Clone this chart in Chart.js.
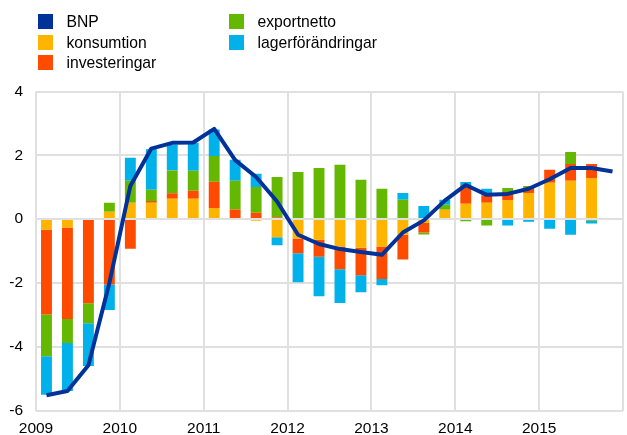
<!DOCTYPE html>
<html>
<head>
<meta charset="utf-8">
<script src="https://cdn.jsdelivr.net/npm/chart.js@4/dist/chart.umd.min.js"></script>
<style>
  html, body { margin: 0; padding: 0; background: #fff; overflow: hidden; }
  #wrap { position: absolute; left: 0; top: 0; width: 632px; height: 435px; }
  #legend { position: absolute; left: 0; top: 0; width: 627px; height: 80px; font-family: "Liberation Sans", Arial, sans-serif; font-size: 15.7px; color: #000; }
  .sw { position: absolute; width: 15px; height: 15px; }
  .lt { position: absolute; line-height: 15px; white-space: nowrap; }
</style>
</head>
<body>
<div id="wrap"><canvas id="c"></canvas></div>
<div id="legend"></div>
<script>
// Quarters 2009Q1 .. 2015Q4
const quarters = ["2009Q1","2009Q2","2009Q3","2009Q4","2010Q1","2010Q2","2010Q3","2010Q4",
  "2011Q1","2011Q2","2011Q3","2011Q4","2012Q1","2012Q2","2012Q3","2012Q4",
  "2013Q1","2013Q2","2013Q3","2013Q4","2014Q1","2014Q2","2014Q3","2014Q4",
  "2015Q1","2015Q2","2015Q3","2015Q4"];
const yearLabels = ["2009","2010","2011","2012","2013","2014","2015"];

const bnp = [-5.52, -5.39, -4.58, -2.0, 1.04, 2.21, 2.39, 2.40, 2.83, 1.85, 1.32, 0.55,
  -0.49, -0.78, -0.94, -1.03, -1.12, -0.42, -0.04, 0.58, 1.07, 0.76, 0.79, 0.95,
  1.25, 1.60, 1.60, 1.49];
const konsumtion = [-0.33, -0.26, 0, 0.23, 0.51, 0.51, 0.64, 0.64, 0.35, 0, -0.05, -0.57,
  -0.61, -0.65, -0.86, -0.90, -0.86, -0.49, -0.12, 0.29, 0.48, 0.51, 0.60, 0.82,
  1.14, 1.20, 1.29, null];
const investeringar = [-2.66, -2.875, -2.64, -2.05, -0.93, 0.06, 0.17, 0.25, 0.82, 0.30, 0.20, 0.06,
  -0.46, -0.53, -0.71, -0.86, -1.02, -0.78, -0.30, 0, 0.58, 0.23, 0.25, 0.16,
  0.41, 0.53, 0.44, null];
const exportnetto = [-1.31, -0.75, -0.625, 0.28, 0.69, 0.35, 0.71, 0.625, 0.81, 0.90, 0.81, 1.26,
  1.48, 1.60, 1.70, 1.23, 0.95, 0.61, -0.06, 0.16, -0.07, -0.20, 0.125, 0.06,
  0, 0.375, -0.05, null];
const lager = [-1.21, -1.5, -1.34, -0.8, 0.72, 1.27, 0.81, 0.875, 0.83, 0.66, 0.41, -0.25,
  -0.91, -1.24, -1.06, -0.53, -0.19, 0.21, 0.41, 0.16, 0.10, 0.21, -0.20, -0.08,
  -0.30, -0.49, -0.09, null];
const yTicks = [-6, -4, -2, 0, 2, 4];

const colors = {
  bnp: "#003299",
  konsumtion: "#FFB400",
  investeringar: "#FF4B00",
  exportnetto: "#65B800",
  lager: "#00B1EA"
};

const toXY = arr => arr.map((v, i) => ({ x: i + 0.5, y: v }));

const series = [
  { label: "BNP", color: colors.bnp },
  { label: "konsumtion", color: colors.konsumtion },
  { label: "investeringar", color: colors.investeringar },
  { label: "exportnetto", color: colors.exportnetto },
  { label: "lagerförändringar", color: colors.lager }
];

// HTML legend (two columns, column-major)
const legendPos = [
  { sx: 38, tx: 66.5, y: 14 },
  { sx: 38, tx: 66.5, y: 35 },
  { sx: 38, tx: 66.5, y: 55 },
  { sx: 229, tx: 257.5, y: 14 },
  { sx: 229, tx: 257.5, y: 35 }
];
const leg = document.getElementById("legend");
series.forEach((s, i) => {
  const p = legendPos[i];
  const sw = document.createElement("div");
  sw.className = "sw";
  sw.style.left = p.sx + "px"; sw.style.top = p.y + "px"; sw.style.background = s.color;
  const t = document.createElement("div");
  t.className = "lt";
  t.style.left = p.tx + "px"; t.style.top = p.y + "px";
  t.textContent = s.label;
  leg.appendChild(sw); leg.appendChild(t);
});

const barCommon = { type: "bar", stack: "bars", barPercentage: 1, categoryPercentage: 0.52, borderWidth: 0 };

const tickFont = { family: "'Liberation Sans', Arial, sans-serif", size: 15.5 };

new Chart(document.getElementById("c"), {
  data: {
    datasets: [
      { type: "line", label: "BNP", data: toXY(bnp), stack: "line", borderColor: colors.bnp,
        backgroundColor: colors.bnp, borderWidth: 4, pointRadius: 0, tension: 0,
        borderJoinStyle: "round", fill: false },
      Object.assign({ label: "konsumtion", data: toXY(konsumtion), backgroundColor: colors.konsumtion }, barCommon),
      Object.assign({ label: "investeringar", data: toXY(investeringar), backgroundColor: colors.investeringar }, barCommon),
      Object.assign({ label: "exportnetto", data: toXY(exportnetto), backgroundColor: colors.exportnetto }, barCommon),
      Object.assign({ label: "lagerförändringar", data: toXY(lager), backgroundColor: colors.lager }, barCommon)
    ]
  },
  options: {
    responsive: true,
    maintainAspectRatio: false,
    animation: false,
    layout: { padding: { top: 91.5, left: 0, right: 1, bottom: 0 } },
    plugins: { legend: { display: false }, tooltip: { enabled: false } },
    scales: {
      x: {
        type: "linear", stacked: true, min: 0, max: quarters.length, offset: false,
        afterBuildTicks: (s) => { s.ticks = yearLabels.map((y, i) => ({ value: i * 4 })).concat([{ value: 28 }]); },
        ticks: {
          autoSkip: false, maxRotation: 0, padding: 9, color: "#000", font: tickFont,
          callback: (v) => { const i = Math.round(v / 4); return yearLabels[i] !== undefined ? yearLabels[i] : ""; }
        },
        grid: { color: "#e0e0e0", lineWidth: 2, drawTicks: false, offset: false },
        border: { display: false },
        afterFit: (s) => { s.height = 24.5; }
      },
      y: {
        stacked: true, min: -6, max: 4,
        afterBuildTicks: (s) => { s.ticks = yTicks.map(v => ({ value: v })); },
        ticks: { padding: 13, color: "#000", font: tickFont },
        grid: { color: "#e0e0e0", lineWidth: 2, drawTicks: false },
        border: { display: false },
        afterFit: (s) => { s.width = 36; }
      }
    }
  }
});
</script>
</body>
</html>
